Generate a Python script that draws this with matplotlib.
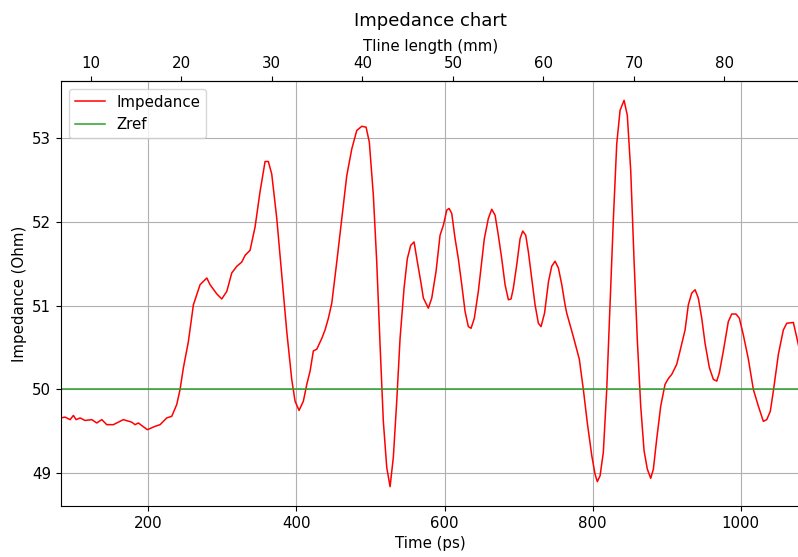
import numpy as np
import matplotlib
matplotlib.use('Agg')
import matplotlib.pyplot as plt

plt.rcParams['font.size'] = 10.8

# time axis (ps) and impedance (Ohm)
time_ps = [80.8, 87.5, 94.3, 98.7, 102.4, 107.8, 114.5, 123.6, 130.3, 137.1,
           143.8, 152.7, 166.2, 177.6, 182.0, 186.5, 198.6, 209.0, 215.8, 224.8,
           231.6, 238.3, 242.8, 247.3, 254.0, 260.8, 269.8, 278.9, 283.3, 292.4,
           299.1, 305.9, 312.6, 319.4, 326.1, 330.6, 337.3, 344.1, 350.8, 357.6,
           362.0, 366.6, 373.4, 380.1, 386.9, 393.6, 398.1, 403.5, 409.3, 413.9,
           418.4, 422.8, 427.4, 434.2, 438.6, 443.1, 447.7, 454.4, 461.2, 467.9,
           474.7, 481.4, 488.2, 494.0, 498.4, 503.8, 508.4, 512.9, 517.3, 521.9,
           526.4, 530.8, 535.4, 539.9, 545.3, 549.7, 554.3, 558.8, 563.3, 567.8,
           571.4, 578.1, 582.7, 588.5, 593.9, 598.4, 603.0, 606.1, 609.7, 614.2,
           618.6, 623.2, 627.7, 632.1, 635.8, 640.2, 645.6, 653.7, 659.1, 663.7,
           668.2, 672.6, 677.2, 681.7, 686.2, 689.8, 692.9, 697.5, 702.0, 705.6,
           709.6, 713.2, 717.7, 722.2, 726.7, 730.3, 735.0, 740.4, 744.7, 749.2,
           753.7, 758.3, 762.7, 765.0, 773.9, 782.0, 787.4, 792.8, 798.8, 803.2,
           806.3, 810.0, 814.4, 819.0, 823.5, 827.9, 832.5, 837.0, 842.4, 846.8,
           851.4, 855.9, 860.3, 864.9, 869.4, 873.8, 878.4, 882.0, 886.5, 891.9,
           897.7, 902.2, 906.8, 913.5, 918.0, 924.8, 929.2, 933.8, 938.3, 942.7,
           947.3, 951.8, 957.6, 963.0, 967.6, 971.1, 976.5, 983.2, 987.8, 993.6,
           998.1, 1003.5, 1010.3, 1017.0, 1023.8, 1030.5, 1035.1, 1039.9, 1044.0, 1050.8,
           1057.5, 1062.1, 1071.0, 1076.4, 1080.0]
impedance = [49.66, 49.67, 49.64, 49.69, 49.64, 49.66, 49.63, 49.64, 49.60, 49.64,
             49.58, 49.58, 49.64, 49.61, 49.58, 49.60, 49.52, 49.56, 49.58, 49.66,
             49.68, 49.82, 50.00, 50.26, 50.57, 51.01, 51.25, 51.33, 51.25, 51.14,
             51.08, 51.17, 51.39, 51.47, 51.52, 51.60, 51.66, 51.94, 52.36, 52.72,
             52.72, 52.57, 52.04, 51.37, 50.69, 50.12, 49.86, 49.75, 49.86, 50.06,
             50.22, 50.46, 50.48, 50.61, 50.71, 50.85, 51.03, 51.52, 52.04, 52.55,
             52.87, 53.09, 53.14, 53.13, 52.95, 52.32, 51.52, 50.53, 49.62, 49.07,
             48.84, 49.19, 49.86, 50.61, 51.21, 51.56, 51.72, 51.76, 51.52, 51.29,
             51.09, 50.97, 51.09, 51.41, 51.84, 51.96, 52.14, 52.16, 52.10, 51.80,
             51.56, 51.25, 50.93, 50.75, 50.73, 50.85, 51.17, 51.80, 52.04, 52.15,
             52.08, 51.84, 51.56, 51.25, 51.07, 51.08, 51.21, 51.49, 51.80, 51.89,
             51.84, 51.64, 51.33, 51.01, 50.79, 50.75, 50.91, 51.29, 51.47, 51.53,
             51.45, 51.25, 51.01, 50.91, 50.63, 50.36, 50.00, 49.60, 49.21, 48.99,
             48.90, 48.97, 49.25, 50.00, 51.03, 52.02, 52.93, 53.33, 53.45, 53.27,
             52.61, 51.54, 50.59, 49.80, 49.27, 49.05, 48.94, 49.05, 49.41, 49.80,
             50.06, 50.13, 50.18, 50.30, 50.46, 50.71, 51.01, 51.15, 51.19, 51.09,
             50.85, 50.55, 50.26, 50.12, 50.10, 50.20, 50.46, 50.81, 50.90, 50.90,
             50.85, 50.65, 50.36, 50.00, 49.80, 49.62, 49.64, 49.74, 49.98, 50.42,
             50.71, 50.79, 50.80, 50.59, 50.45]
zref = 50
mm_ticks = [10, 20, 30, 40, 50, 60, 70, 80]

# ps -> mm (round trip, er ~ 3.36)
mm_per_ps = 0.0818

fig = plt.figure(figsize=(7.98, 5.57), dpi=100)
ax = fig.add_axes([61 / 798, 51 / 557, 739 / 798, 425 / 557])

ax.plot(time_ps, impedance, color='red', linewidth=1.1, label='Impedance')
ax.axhline(zref, color='tab:green', linewidth=1.1, label='Zref')

ax.set_xlim(82, 1080)
ax.set_xlabel('Time (ps)')
ax.set_ylabel('Impedance (Ohm)')
ax.grid(True)
ax.legend(loc='upper left')

top = ax.secondary_xaxis('top', functions=(lambda t: t * mm_per_ps,
                                           lambda m: m / mm_per_ps))
top.set_xticks(mm_ticks)
top.set_xlabel('Tline length (mm)')
ax.set_title('Impedance chart', pad=9)

fig.savefig('out.png', dpi=100)
